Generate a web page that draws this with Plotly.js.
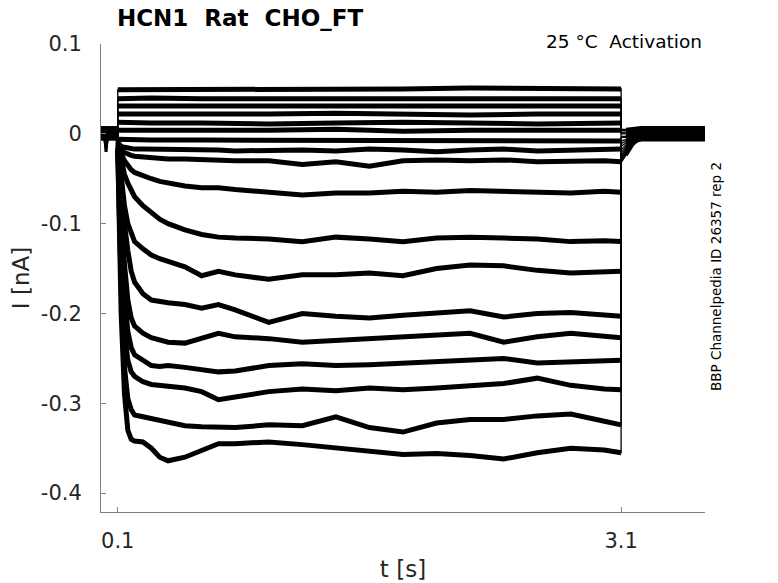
<!DOCTYPE html>
<html><head><meta charset="utf-8">
<script src="https://cdn.plot.ly/plotly-3.0.1.min.js"></script>
<style>html,body{margin:0;padding:0;background:#fff}#chart{width:778px;height:583px}</style>
</head><body><div id="chart"></div>
<script>
// time bases (s)
const tPre  = [0, 0.02, 0.03, 0.04, 0.07, 0.1];
const tFlat = [0.1, 0.3, 0.6, 1.0, 1.4, 1.8, 2.2, 2.6, 3.1];
const tStep = [0.1, 0.11, 0.12, 0.14, 0.16, 0.18, 0.2, 0.25, 0.3, 0.35, 0.4, 0.5, 0.6, 0.7, 0.8, 1.0, 1.2, 1.4, 1.6, 1.8, 2.0, 2.2, 2.4, 2.6, 2.8, 3.0, 3.1];
const tPost = [3.1, 3.13, 3.17, 3.22, 3.4, 3.6];

// currents during the step (nA)
const u1 = [0.049, 0.049, 0.05, 0.05, 0.05, 0.05, 0.051, 0.05, 0.05];
const u2 = [0.039, 0.04, 0.039, 0.039, 0.04, 0.039, 0.039, 0.04, 0.039];
const u3 = [0.031, 0.031, 0.03, 0.031, 0.031, 0.03, 0.031, 0.031, 0.031];
const u4 = [0.022, 0.022, 0.021, 0.022, 0.023, 0.022, 0.021, 0.022, 0.022];
const u5 = [0.013, 0.012, 0.012, 0.011, 0.012, 0.013, 0.012, 0.011, 0.012];
const u6 = [0.004, 0.004, 0.003, 0.004, 0.005, 0.003, 0.004, 0.004, 0.004];
const u7 = [-0.006, -0.007, -0.007, -0.007, -0.008, -0.007, -0.007, -0.007, -0.008];
const u8 = [-0.01, -0.013, -0.014, -0.015, -0.016, -0.016, -0.017, -0.017, -0.017, -0.018, -0.018, -0.017, -0.018, -0.018, -0.019, -0.018, -0.018, -0.019, -0.017, -0.018, -0.02, -0.018, -0.017, -0.019, -0.018, -0.018, -0.017];
const u9 = [-0.008, -0.014, -0.018, -0.021, -0.023, -0.024, -0.025, -0.026, -0.027, -0.027, -0.028, -0.028, -0.029, -0.029, -0.03, -0.03, -0.034, -0.031, -0.036, -0.03, -0.029, -0.03, -0.029, -0.031, -0.03, -0.03, -0.031];
const u10 = [-0.006, -0.015, -0.022, -0.03, -0.036, -0.04, -0.043, -0.047, -0.05, -0.053, -0.055, -0.058, -0.06, -0.06, -0.062, -0.065, -0.068, -0.066, -0.066, -0.064, -0.065, -0.063, -0.064, -0.066, -0.066, -0.064, -0.065];
const l8 = [-0.01, -0.02, -0.03, -0.045, -0.055, -0.063, -0.07, -0.08, -0.088, -0.095, -0.1, -0.107, -0.112, -0.115, -0.116, -0.117, -0.12, -0.115, -0.117, -0.12, -0.116, -0.115, -0.116, -0.117, -0.12, -0.119, -0.12];
const l7 = [-0.012, -0.03, -0.05, -0.08, -0.1, -0.112, -0.12, -0.128, -0.135, -0.139, -0.142, -0.148, -0.158, -0.153, -0.157, -0.162, -0.157, -0.157, -0.155, -0.158, -0.15, -0.146, -0.147, -0.152, -0.155, -0.154, -0.153];
const l6 = [-0.015, -0.04, -0.065, -0.1, -0.13, -0.153, -0.165, -0.178, -0.185, -0.187, -0.188, -0.19, -0.194, -0.19, -0.196, -0.21, -0.2, -0.203, -0.205, -0.202, -0.2, -0.197, -0.204, -0.2, -0.199, -0.201, -0.203];
const l5 = [-0.016, -0.05, -0.085, -0.145, -0.185, -0.205, -0.214, -0.222, -0.227, -0.229, -0.232, -0.233, -0.228, -0.222, -0.226, -0.228, -0.232, -0.23, -0.228, -0.226, -0.225, -0.222, -0.232, -0.226, -0.222, -0.225, -0.227];
const l4 = [-0.017, -0.065, -0.11, -0.18, -0.22, -0.238, -0.246, -0.252, -0.258, -0.259, -0.258, -0.26, -0.263, -0.265, -0.264, -0.258, -0.256, -0.258, -0.257, -0.255, -0.254, -0.252, -0.25, -0.255, -0.254, -0.252, -0.252];
const l3 = [-0.018, -0.08, -0.14, -0.22, -0.252, -0.265, -0.27, -0.276, -0.279, -0.28, -0.281, -0.283, -0.287, -0.296, -0.293, -0.287, -0.284, -0.286, -0.283, -0.285, -0.283, -0.281, -0.278, -0.272, -0.28, -0.284, -0.285];
const l2 = [-0.02, -0.1, -0.17, -0.26, -0.295, -0.307, -0.313, -0.315, -0.317, -0.32, -0.322, -0.325, -0.326, -0.327, -0.327, -0.324, -0.325, -0.315, -0.327, -0.332, -0.322, -0.318, -0.318, -0.314, -0.312, -0.32, -0.324];
const l1 = [-0.02, -0.12, -0.2, -0.29, -0.33, -0.34, -0.342, -0.343, -0.35, -0.36, -0.364, -0.36, -0.352, -0.345, -0.345, -0.343, -0.346, -0.35, -0.353, -0.357, -0.356, -0.358, -0.362, -0.355, -0.35, -0.352, -0.355];

const stepValues = [u1, u2, u3, u4, u5, u6, u7, u8, u9, u10, l8, l7, l6, l5, l4, l3, l2, l1];
const stepTimes  = [tFlat, tFlat, tFlat, tFlat, tFlat, tFlat, tFlat, tStep, tStep, tStep, tStep, tStep, tStep, tStep, tStep, tStep, tStep, tStep];

// holding current before the step, and tail/holding after the step (nA)
const baseline  = [0.006, 0.004, 0.002, 0.007, -0.002, 0.001, -0.004, 0.003, -0.006, 0.0, 0.005, -0.003, 0.002, -0.005, 0.004, -0.001, 0.003, -0.002];
const preDip    = [0.006, 0.004, 0.002, 0.007, -0.002, 0.001, -0.004, 0.003, -0.006, 0.0, 0.005, -0.003, -0.02, -0.005, 0.004, -0.015, 0.003, -0.012];
const tailA     = [0.004, 0.002, 0.0, 0.005, -0.003, 0.001, -0.004, -0.004, -0.008, -0.011, -0.014, -0.018, -0.021, -0.024, -0.026, -0.028, -0.030, -0.032];
const tailB     = [0.004, 0.002, 0.0, 0.005, -0.003, 0.001, -0.004, -0.003, -0.006, -0.008, -0.010, -0.012, -0.014, -0.016, -0.018, -0.020, -0.022, -0.024];
const tailC     = [0.005, 0.003, 0.001, 0.006, -0.002, 0.002, -0.004, 0.001, -0.004, -0.003, -0.006, -0.006, -0.008, -0.009, -0.010, -0.011, -0.011, -0.012];
const postLevel = [0.006, 0.003, 0.001, 0.007, -0.002, 0.002, -0.005, 0.004, -0.006, 0.0, 0.004, -0.003, 0.002, -0.007, 0.005, -0.001, 0.003, -0.004];

const yTicks = [-0.4, -0.3, -0.2, -0.1, 0, 0.1];
const yTickText = ['-0.4', '-0.3', '-0.2', '-0.1', '0', '0.1'];
const xTicks = [0.1, 3.1];
const xTickText = ['0.1', '3.1'];

const traces = [];
const line = (x, y, w) => ({x, y, type: 'scatter', mode: 'lines', line: {color: '#000', width: w}, hoverinfo: 'skip', showlegend: false});
for (let i = 0; i < stepValues.length; i++) {
  const preY = [baseline[i], baseline[i], preDip[i], baseline[i], baseline[i], baseline[i]];
  const postY = [tailA[i], tailB[i], tailC[i], postLevel[i], postLevel[i], postLevel[i]];
  traces.push(line(tPre.concat(stepTimes[i], tPost), preY.concat(stepValues[i], postY), 1.3));
  traces.push(line(tPre, preY, 3));
  traces.push(line(stepTimes[i], stepValues[i], 5));
  traces.push(line(tPost.slice(1), postY.slice(1), 3));
}

const fontFam = 'DejaVu Sans, sans-serif';
const layout = {
  width: 778, height: 583,
  margin: {l: 101, r: 73, t: 44, b: 71},
  paper_bgcolor: '#fff', plot_bgcolor: '#fff',
  title: {text: 'HCN1\u00a0\u00a0Rat\u00a0\u00a0CHO_FT', font: {family: fontFam, size: 23, color: '#000', weight: 'bold'},
          xref: 'container', yref: 'container', x: 240/778, xanchor: 'center', y: 1 - 18/583, yanchor: 'middle'},
  xaxis: {range: [0, 3.6], tickvals: xTicks, ticktext: xTickText, ticks: 'inside', ticklen: 5, tickcolor: '#808080',
          showline: true, linecolor: '#808080', linewidth: 1, showgrid: false, zeroline: false,
          tickfont: {family: fontFam, size: 21, color: '#262626'}, ticklabelstandoff: 10,
          title: {text: 't [s]', font: {family: fontFam, size: 23, color: '#262626'}, standoff: 8}},
  yaxis: {range: [-0.421, 0.1], tickvals: yTicks, ticktext: yTickText, ticks: 'inside', ticklen: 5, tickcolor: '#808080',
          showline: true, linecolor: '#808080', linewidth: 1, showgrid: false, zeroline: false,
          tickfont: {family: fontFam, size: 21, color: '#262626'}, ticklabelstandoff: 14,
          title: {text: 'I [nA]', font: {family: fontFam, size: 23, color: '#262626'}, standoff: 4}},
  annotations: [
    {text: '25 °C\u00a0\u00a0Activation', xref: 'paper', yref: 'paper', x: (704-101)/604, y: (512-41)/468,
     xanchor: 'right', yanchor: 'middle', showarrow: false, font: {family: fontFam, size: 18.5, color: '#000'}},
    {text: 'BBP Channelpedia ID 26357 rep 2', xref: 'paper', yref: 'paper', x: (716-101)/604, y: (512-277)/468,
     xanchor: 'center', yanchor: 'middle', textangle: -90, showarrow: false, font: {family: fontFam, size: 13.5, color: '#000'}}
  ]
};
Plotly.newPlot('chart', traces, layout, {staticPlot: true, displayModeBar: false});
</script></body></html>
